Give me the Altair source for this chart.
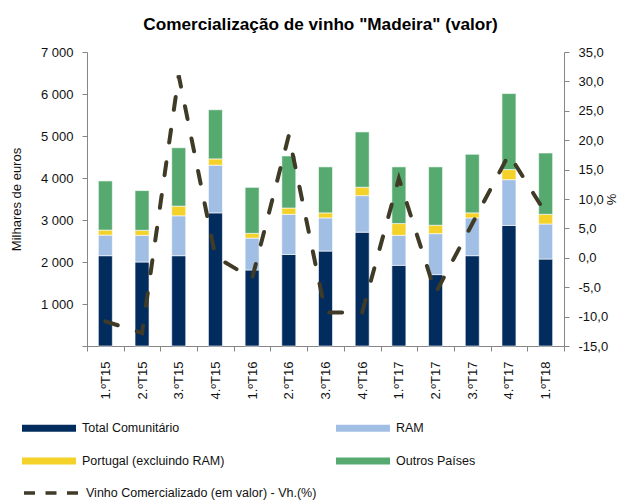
import altair as alt
import pandas as pd

cats = ["1.ºT15", "2.ºT15", "3.ºT15", "4.ºT15", "1.ºT16", "2.ºT16", "3.ºT16",
        "4.ºT16", "1.ºT17", "2.ºT17", "3.ºT17", "4.ºT17", "1.ºT18"]
total_com = [2150, 2000, 2150, 3170, 1810, 2180, 2260, 2710, 1920, 1700, 2150, 2870, 2070]
ram = [490, 635, 950, 1135, 760, 955, 790, 870, 715, 975, 900, 1090, 835]
portugal = [120, 120, 230, 150, 112, 150, 120, 200, 280, 200, 120, 240, 230]
outros = [1170, 945, 1390, 1170, 1095, 1240, 1095, 1317, 1350, 1390, 1395, 1810, 1460]
vh = [-10.8, -12.8, 31.0, 0.2, -3.5, 20.8, -9.3, -9.3, 13.5, -6.0, 5.8, 17.6, 7.6]

series_names = ["Total Comunitário", "RAM", "Portugal (excluindo RAM)", "Outros Países"]
series_colors = ["#022C5E", "#A1BEE4", "#F5D22A", "#56AA70"]
# legend fills column by column: list entries so that rows read TC | RAM, Portugal | Outros
legend_order = ["Total Comunitário", "Portugal (excluindo RAM)", "RAM", "Outros Países"]
line_name = "Vinho Comercializado (em valor) - Vh.(%)"
line_color = "#403B27"
title_text = 'Comercialização de vinho "Madeira" (valor)'

rows = []
for i, c in enumerate(cats):
    for k, (name, vals) in enumerate(zip(series_names, [total_com, ram, portugal, outros])):
        rows.append({"cat": c, "serie": name, "ord": k, "valor": vals[i]})
bars_df = pd.DataFrame(rows)
line_df = pd.DataFrame({"cat": cats, "vh": vh, "serie": [line_name] * len(cats)})

color_of = dict(zip(series_names, series_colors))

FONT = "Liberation Sans"

x_enc = alt.X(
    "cat:N", sort=cats, title=None,
    scale=alt.Scale(paddingInner=0, paddingOuter=0),
    axis=alt.Axis(labelAngle=270, tickBand="extent", labelPadding=10),
)

bars = alt.Chart(bars_df).mark_bar(size=14, stroke="white", strokeWidth=0.6).encode(
    x=x_enc,
    y=alt.Y(
        "valor:Q", stack="zero",
        scale=alt.Scale(domain=[0, 7000], nice=False, zero=True),
        axis=alt.Axis(
            orient="left", values=list(range(0, 7001, 1000)), grid=False,
            title="Milhares de euros", titlePadding=17, labelPadding=9,
            labelExpr="datum.value == 0 ? '' : replace(format(datum.value, ','), ',', ' ')",
        ),
    ),
    fill=alt.Fill(
        "serie:N",
        scale=alt.Scale(domain=legend_order, range=[color_of[n] for n in legend_order]),
        legend=alt.Legend(
            title=None, orient="none", legendX=-48, legendY=366, columns=2,
            symbolType="M-2.7,-0.35H2.7V0.35H-2.7Z", symbolSize=400,
            symbolStrokeWidth=0, labelOffset=23, columnPadding=111, rowPadding=16,
            labelFontSize=12.5, labelFont=FONT, labelColor="#111111", labelLimit=400,
        ),
    ),
    order=alt.Order("ord:Q", sort="ascending"),
)

line = alt.Chart(line_df).mark_line(
    strokeWidth=4, strokeDash=[13, 20], strokeCap="round", color=line_color
).encode(
    x=x_enc,
    y=alt.Y(
        "vh:Q",
        scale=alt.Scale(domain=[-15, 35], nice=False, zero=False),
        axis=alt.Axis(
            orient="right", values=list(range(-15, 36, 5)), grid=False,
            title="%", titleAngle=270, titlePadding=11, labelPadding=9,
            labelExpr="replace(replace(format(datum.value, '.1f'), '.', ','), '\u2212', '-')",
        ),
    ),
    stroke=alt.Stroke(
        "serie:N",
        scale=alt.Scale(domain=[line_name], range=[line_color]),
        legend=alt.Legend(
            title=None, orient="none", legendX=-48, legendY=429,
            symbolType="M-2.7,0H2.7", symbolSize=400, symbolStrokeWidth=3.5,
            symbolDash=[11, 10.5], labelOffset=23,
            labelFontSize=12.5, labelFont=FONT, labelColor="#111111", labelLimit=400,
        ),
    ),
)

chart = alt.layer(bars, line).resolve_scale(
    y="independent", fill="independent", stroke="independent"
).properties(
    width=477, height=294,
    title=alt.TitleParams(
        text=title_text, font=FONT, fontSize=17.2, fontWeight="bold",
        anchor="middle", offset=13, color="#000000", dx=-5,
    ),
    padding={"left": 79, "top": 44, "right": 58, "bottom": 154},
    autosize="none",
).configure_view(stroke=None).configure_axis(
    domainColor="#868686", tickColor="#868686", tickSize=5,
    labelFont=FONT, labelFontSize=13, labelColor="#111111",
    titleFont=FONT, titleFontSize=13, titleFontWeight="normal", titleColor="#111111",
)

chart.save("out.html", embed_options={"renderer": "svg", "actions": False})
